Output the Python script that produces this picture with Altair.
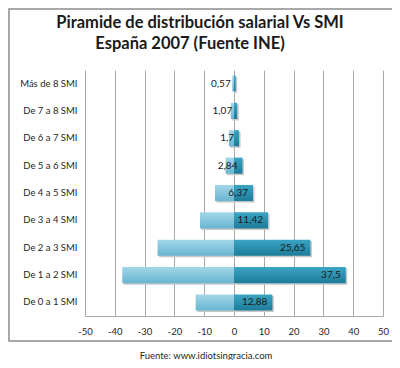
import altair as alt
import pandas as pd

categories = ["Más de 8 SMI", "De 7 a 8 SMI", "De 6 a 7 SMI", "De 5 a 6 SMI",
              "De 4 a 5 SMI", "De 3 a 4 SMI", "De 2 a 3 SMI", "De 1 a 2 SMI",
              "De 0 a 1 SMI"]
values = [0.57, 1.07, 1.7, 2.84, 6.37, 11.42, 25.65, 37.5, 12.88]
labels = ["0,57", "1,07", "1,7", "2,84", "6,37", "11,42", "25,65", "37,5", "12,88"]
x_ticks = [-50, -40, -30, -20, -10, 0, 10, 20, 30, 40, 50]
title_lines = ["Piramide de distribución salarial Vs SMI", "España 2007 (Fuente INE)"]
source_text = "Fuente: www.idiotsingracia.com"

df = pd.concat([
    pd.DataFrame({"cat": categories, "v": [-v for v in values], "side": "neg", "label": labels}),
    pd.DataFrame({"cat": categories, "v": values, "side": "pos", "label": labels}),
], ignore_index=True)

FONT = "Lato"

xaxis = alt.Axis(values=x_ticks, grid=True, gridColor="#a8a8a8", gridWidth=1,
                 domain=True, domainColor="#a8a8a8", ticks=False, labelPadding=10,
                 labelFont=FONT, labelFontSize=9.5, labelColor="#262626",
                 labelExpr="'' + datum.value", labelOverlap=False,
                 title=None, labelFlush=False)
xenc = alt.X("v:Q", scale=alt.Scale(domain=[-50, 50], nice=False), axis=xaxis)
yenc = alt.Y("cat:N", sort=categories, title=None,
             scale=alt.Scale(paddingInner=0.41, paddingOuter=0.2),
             axis=alt.Axis(domain=False, ticks=False, grid=False, labelPadding=8,
                           labelFont=FONT, labelFontSize=9.5, labelColor="#262626"))

neg_grad = alt.Gradient(gradient="linear", x1=0, x2=0, y1=0, y2=1,
                        stops=[alt.GradientStop(color="#a3d7e9", offset=0),
                               alt.GradientStop(color="#68b5d0", offset=1)])
pos_grad = alt.Gradient(gradient="linear", x1=0, x2=0, y1=0, y2=1,
                        stops=[alt.GradientStop(color="#3aa5c4", offset=0),
                               alt.GradientStop(color="#1d7c9a", offset=1)])

base = alt.Chart(df)

shadow = base.mark_bar(color="#c8c8c8", xOffset=1.5, yOffset=1.5).encode(x=xenc, y=yenc)
neg_bars = base.transform_filter("datum.side == 'neg'").mark_bar(color=neg_grad).encode(x=xenc, y=yenc)
pos_bars = base.transform_filter("datum.side == 'pos'").mark_bar(color=pos_grad).encode(x=xenc, y=yenc)
text = base.transform_filter("datum.side == 'pos'").mark_text(
    align="right", dx=-5, font=FONT, fontSize=10, color="#1a1a1a").encode(
    x=xenc, y=yenc, text="label:N")

frame = alt.Chart(pd.DataFrame({"a": [0]})).mark_rect(
    fill=None, stroke="#8c8c8c", strokeWidth=1.5).encode(
    x=alt.value(-76), x2=alt.value(308), y=alt.value(-61), y2=alt.value(271))

title_df = pd.DataFrame({"t": title_lines, "px": [115, 105], "py": [-47, -26]})
title = alt.Chart(title_df).mark_text(font=FONT, fontSize=16.5, fontWeight="bold",
                                      color="#1a1a1a", align="center", baseline="middle").encode(
    x=alt.X("px:Q", scale=None), y=alt.Y("py:Q", scale=None), text="t:N")

source = alt.Chart(pd.DataFrame({"t": [source_text]})).mark_text(
    font=FONT, fontSize=9.5, color="#262626", align="center", baseline="middle").encode(
    x=alt.value(121), y=alt.value(286), text="t:N")

chart = alt.layer(shadow, neg_bars, pos_bars, text, frame, title, source).properties(
    width=298, height=246,
    padding={"left": 77, "top": 62, "right": 9, "bottom": 44},
    autosize="none",
    background="white",
).configure_view(stroke=None)

chart.save("out.html", embed_options={"renderer": "svg", "actions": False})
